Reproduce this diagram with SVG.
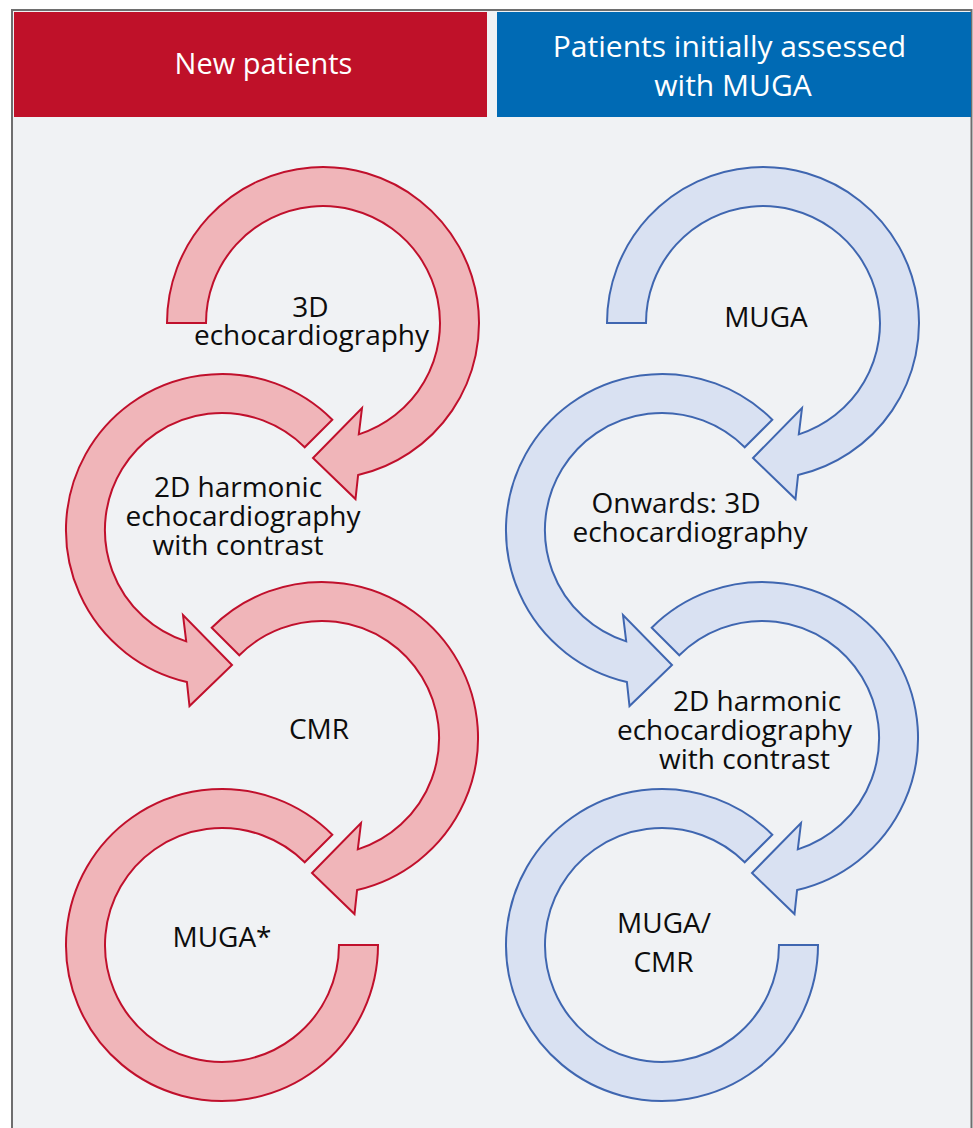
<svg xmlns="http://www.w3.org/2000/svg" width="973" height="1128" viewBox="0 0 973 1128">
  <style>
    .hdr { font-family: "Open Sans", "Liberation Sans", sans-serif; font-size: 29px; fill: #ffffff; text-anchor: middle; }
    .hdr2 { font-family: "Open Sans", "Liberation Sans", sans-serif; font-size: 30px; fill: #ffffff; text-anchor: middle; }
    .lbl { font-family: "Open Sans", "Liberation Sans", sans-serif; font-size: 28px; fill: #0d0d0d; text-anchor: middle; }
    .red { fill: #f0b5b9; stroke: #c0102c; stroke-width: 2; stroke-linejoin: miter; }
    .blue { fill: #d9e1f2; stroke: #3f66b0; stroke-width: 2; stroke-linejoin: miter; }
  </style>
  <rect x="0" y="0" width="973" height="1128" fill="#ffffff"/>
  <rect x="12" y="10" width="959.5" height="1130" fill="#f0f2f4" stroke="#6e6e6e" stroke-width="2"/>

  <g id="header-new">
    <rect x="14" y="12" width="473" height="105" fill="#bf1129"/>
    <text class="hdr" x="263.5" y="74">New patients</text>
  </g>
  <g id="header-muga">
    <rect x="497" y="12" width="474" height="105" fill="#006ab4"/>
    <text class="hdr2" x="729.5" y="57">Patients initially assessed</text>
    <text class="hdr2" x="733" y="96">with MUGA</text>
  </g>

  <g id="connectors">
    <!-- red column -->
    <path id="arrow-red-1" class="red" d="M 167 323 A 156 156 0 1 1 358.1 475 L 355.5 499 L 313 458 L 362 408 L 358.8 434.4 A 117 117 0 1 0 206 323 Z"/>
    <path id="arrow-red-2" class="red" d="M 332.3 419.7 A 156 156 0 1 0 186.9 682 L 189.5 706 L 232 665 L 183 615 L 186.2 641.4 A 117 117 0 1 1 304.7 447.3 Z"/>
    <path id="arrow-red-3" class="red" d="M 211.7 627.7 A 156 156 0 1 1 357.1 890 L 354.5 914 L 312 873 L 361 823 L 357.8 849.4 A 117 117 0 1 0 239.3 655.3 Z"/>
    <path id="arrow-red-4" class="red" d="M 332.3 834.7 A 156 156 0 1 0 378 945 L 339 945 A 117 117 0 1 1 304.7 862.3 Z"/>
    <!-- blue column -->
    <path id="arrow-blue-1" class="blue" d="M 607 323 A 156 156 0 1 1 798.1 475 L 795.5 499 L 753 458 L 802 408 L 798.8 434.4 A 117 117 0 1 0 646 323 Z"/>
    <path id="arrow-blue-2" class="blue" d="M 772.3 419.7 A 156 156 0 1 0 626.9 682 L 629.5 706 L 672 665 L 623 615 L 626.2 641.4 A 117 117 0 1 1 744.7 447.3 Z"/>
    <path id="arrow-blue-3" class="blue" d="M 651.7 627.7 A 156 156 0 1 1 797.1 890 L 794.5 914 L 752 873 L 801 823 L 797.8 849.4 A 117 117 0 1 0 679.3 655.3 Z"/>
    <path id="arrow-blue-4" class="blue" d="M 772.3 834.7 A 156 156 0 1 0 818 945 L 779 945 A 117 117 0 1 1 744.7 862.3 Z"/>
  </g>

  <g id="node-red-3d">
    <text class="lbl" x="310.5" y="317">3D</text>
    <text class="lbl" x="311.5" y="344.5">echocardiography</text>
  </g>
  <g id="node-red-2d">
    <text class="lbl" x="238" y="497">2D harmonic</text>
    <text class="lbl" x="243" y="526">echocardiography</text>
    <text class="lbl" x="238" y="555">with contrast</text>
  </g>
  <g id="node-red-cmr">
    <text class="lbl" x="319" y="739">CMR</text>
  </g>
  <g id="node-red-muga">
    <text class="lbl" x="222" y="947">MUGA*</text>
  </g>

  <g id="node-blue-muga">
    <text class="lbl" x="766" y="327">MUGA</text>
  </g>
  <g id="node-blue-3d">
    <text class="lbl" x="676" y="513">Onwards: 3D</text>
    <text class="lbl" x="690" y="542">echocardiography</text>
  </g>
  <g id="node-blue-2d">
    <text class="lbl" x="757" y="711">2D harmonic</text>
    <text class="lbl" x="734.5" y="740">echocardiography</text>
    <text class="lbl" x="744.5" y="769">with contrast</text>
  </g>
  <g id="node-blue-mugacmr">
    <text class="lbl" x="664" y="933">MUGA/</text>
    <text class="lbl" x="663.5" y="972">CMR</text>
  </g>
</svg>
